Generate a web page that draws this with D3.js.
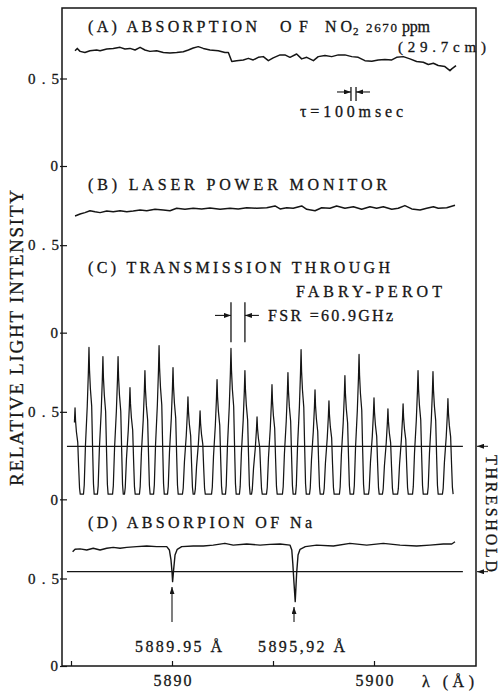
<!DOCTYPE html>
<html>
<head>
<meta charset="utf-8">
<script src="https://cdn.jsdelivr.net/npm/d3@7"></script>
<style>
  body { margin: 0; background: #fff; }
  text { font-family: "Liberation Serif", serif; fill: #151515; stroke: #151515; stroke-width: 0.3; }
</style>
</head>
<body>
<div id="wrapper"></div>
<script>
// (A) absorption of NO2 : [wavelength Å, relative intensity]
const absorptionNO2 = [
  [5885.20,0.659],[5885.31,0.672],[5885.45,0.655],[5885.69,0.649],[5885.94,0.659],[5886.27,0.663],
  [5886.44,0.659],[5886.77,0.669],[5887.09,0.672],[5887.43,0.678],[5887.67,0.669],[5887.92,0.672],
  [5888.17,0.663],[5888.42,0.678],[5888.66,0.663],[5888.91,0.655],[5889.24,0.659],[5889.57,0.649],
  [5889.90,0.646],[5890.23,0.649],[5890.56,0.653],[5890.81,0.663],[5891.05,0.674],[5891.30,0.682],
  [5891.55,0.672],[5891.88,0.663],[5892.29,0.659],[5892.62,0.649],[5892.79,0.649],[5892.96,0.597],
  [5893.20,0.602],[5893.53,0.606],[5893.78,0.615],[5894.02,0.606],[5894.27,0.621],[5894.52,0.625],
  [5894.77,0.602],[5895.01,0.618],[5895.35,0.635],[5895.59,0.635],[5895.84,0.621],[5896.17,0.640],
  [5896.42,0.612],[5896.67,0.621],[5897.00,0.602],[5897.24,0.625],[5897.57,0.631],[5897.91,0.625],
  [5898.23,0.635],[5898.56,0.635],[5898.90,0.625],[5899.22,0.621],[5899.55,0.602],[5899.89,0.598],
  [5900.21,0.606],[5900.54,0.608],[5900.88,0.606],[5901.12,0.621],[5901.45,0.625],[5901.78,0.612],
  [5902.11,0.597],[5902.44,0.593],[5902.69,0.580],[5902.94,0.587],[5903.18,0.574],[5903.51,0.568],
  [5903.76,0.545],[5903.85,0.555],[5904.06,0.574]
];

// (B) laser power monitor
const laserPower = [
  [5885.20,0.667],[5885.45,0.678],[5885.69,0.686],[5885.94,0.697],[5886.19,0.691],[5886.44,0.686],
  [5886.77,0.695],[5887.09,0.691],[5887.43,0.697],[5887.76,0.691],[5888.08,0.695],[5888.42,0.701],
  [5888.75,0.697],[5889.16,0.705],[5889.57,0.701],[5889.90,0.697],[5890.23,0.711],[5890.64,0.705],
  [5891.05,0.711],[5891.47,0.707],[5891.88,0.713],[5892.38,0.705],[5892.87,0.711],[5893.28,0.707],
  [5893.70,0.714],[5894.19,0.711],[5894.69,0.714],[5895.10,0.724],[5895.35,0.707],[5895.68,0.714],
  [5896.00,0.711],[5896.42,0.724],[5896.67,0.705],[5897.08,0.697],[5897.41,0.714],[5897.82,0.711],
  [5898.15,0.724],[5898.56,0.711],[5898.98,0.720],[5899.39,0.705],[5899.80,0.720],[5900.13,0.711],
  [5900.46,0.720],[5900.88,0.705],[5901.20,0.711],[5901.53,0.726],[5901.87,0.707],[5902.28,0.701],
  [5902.61,0.711],[5902.94,0.720],[5903.18,0.711],[5903.60,0.714],[5904.01,0.728]
];

// (C) Fabry-Perot transmission peaks
const fpPeakWavelength = [
  5885.20,5885.89,5886.58,5887.33,5887.92,5888.66,5889.36,5890.05,5890.79,5891.39,
  5892.23,5892.92,5893.61,5894.21,5894.95,5895.74,5896.39,5897.08,5897.77,5898.56,
  5899.26,5900.00,5900.69,5901.44,5902.18,5902.92,5903.66
];
const fpPeakHeight = [
  0.523,0.868,0.816,0.816,0.638,0.736,0.879,0.753,0.586,0.506,
  0.684,0.862,0.736,0.471,0.655,0.724,0.856,0.626,0.563,0.707,
  0.828,0.580,0.517,0.546,0.736,0.730,0.575
];
const fpValley = 0.03;
// shape of one transmission fringe: [offset Å, fraction of peak height]
const fpProfile = [
  [-0.272,0],[-0.235,0.06],[-0.175,0.33],[-0.085,0.6],[-0.030,0.83],[0,1],
  [0.025,0.85],[0.069,0.72],[0.134,0.6],[0.178,0.32],[0.222,0.07],[0.257,0]
];

// (D) absorption of Na
const sodium = [
  [5885.08,0.653],[5885.20,0.667],[5885.45,0.669],[5885.78,0.663],[5886.10,0.673],[5886.44,0.663],
  [5886.77,0.673],[5887.09,0.678],[5887.43,0.673],[5887.76,0.678],[5888.25,0.682],[5888.75,0.686],
  [5889.24,0.682],[5889.74,0.682],[5889.87,0.663],[5889.95,0.606],[5890.00,0.539],[5890.03,0.482],
  [5890.08,0.549],[5890.15,0.634],[5890.26,0.667],[5890.48,0.682],[5891.05,0.686],[5891.55,0.686],
  [5892.04,0.691],[5892.62,0.701],[5893.03,0.691],[5893.70,0.697],[5894.36,0.691],[5894.85,0.695],
  [5895.35,0.697],[5895.84,0.691],[5895.93,0.663],[5895.98,0.587],[5896.04,0.473],[5896.10,0.368],
  [5896.17,0.530],[5896.24,0.634],[5896.34,0.667],[5896.60,0.682],[5897.16,0.691],[5897.99,0.686],
  [5898.81,0.701],[5899.64,0.691],[5900.46,0.701],[5901.29,0.691],[5902.11,0.686],[5902.77,0.691],
  [5903.43,0.697],[5903.85,0.697],[5904.01,0.710]
];
const naLines = [5890.00, 5896.04];
const naLineLabels = ["5889.95 Å", "5895,92 Å"];

const thresholdC = 0.303;
const thresholdD = 0.539;
const thresholdSpan = [5884.80, 5904.40];

const tauMarks = [5898.86, 5899.11];

const xTickValues = [5885, 5890, 5895, 5900];
const xTickLabels = ["", "5890", "", "5900"];
const yTickValues = [0, 0.5];
const yTickLabels = ["0", "0.5"];

const dims = {
  width: 502, height: 693,
  left: 62, right: 476, top: 8, bottom: 666,
  firstZero: 166, unit: 175
};
const panelStep = (dims.bottom - dims.firstZero) / 3;
const ink = "#151515";
const serif = "Liberation Serif";

const svg = d3.select("#wrapper").append("svg")
  .attr("width", dims.width).attr("height", dims.height);

const defs = svg.append("defs");
defs.append("marker").attr("id", "head")
  .attr("markerUnits", "userSpaceOnUse")
  .attr("markerWidth", 7).attr("markerHeight", 5)
  .attr("refX", 7).attr("refY", 2.5).attr("orient", "auto")
  .append("path").attr("d", "M0,0L7,2.5L0,5Z").attr("fill", ink);

const x = d3.scaleLinear().domain([5885, 5900]).range([71, 374]);
const y = [0, 1, 2, 3].map(i => {
  const zero = dims.firstZero + i * panelStep;
  return d3.scaleLinear().domain([0, 1]).range([zero, zero - dims.unit]);
});

// frame
svg.append("rect")
  .attr("x", dims.left).attr("y", dims.top)
  .attr("width", dims.right - dims.left).attr("height", dims.bottom - dims.top)
  .attr("fill", "none").attr("stroke", ink).attr("stroke-width", 1.5);

// y axes, one per panel
y.forEach(sc => {
  const g = svg.append("g")
    .attr("transform", `translate(${dims.left},0)`)
    .call(d3.axisLeft(sc).tickValues(yTickValues)
      .tickFormat((d, i) => yTickLabels[i]).tickSizeInner(-5).tickSizeOuter(0).tickPadding(4));
  g.select(".domain").remove();
  g.selectAll(".tick line").attr("x1", -2).attr("stroke", ink).attr("stroke-width", 1.2);
  g.selectAll(".tick text").attr("font-family", serif).attr("font-size", 15)
    .attr("fill", ink)
    .each(function(d) {
      if (d === 0.5) d3.select(this).attr("text-anchor", "start").attr("x", -34)
        .attr("textLength", 31).attr("lengthAdjust", "spacing");
    });
});

// x axis
const xg = svg.append("g")
  .attr("transform", `translate(0,${dims.bottom})`)
  .call(d3.axisBottom(x).tickValues(xTickValues)
    .tickFormat((d, i) => xTickLabels[i]).tickSizeInner(-5).tickSizeOuter(0).tickPadding(9));
xg.select(".domain").remove();
xg.selectAll(".tick line").attr("stroke", ink).attr("stroke-width", 1.2);
xg.selectAll(".tick text").attr("font-family", serif).attr("font-size", 16)
  .attr("fill", ink).attr("textLength", 38).attr("lengthAdjust", "spacing");

// traces
function trace(data, sc, w) {
  svg.append("path")
    .attr("d", d3.line().x(d => x(d[0])).y(d => sc(d[1]))(data))
    .attr("fill", "none").attr("stroke", ink).attr("stroke-width", w)
    .attr("stroke-linejoin", "round");
}
trace(absorptionNO2, y[0], 1.5);
trace(laserPower, y[1], 1.5);

const fpTrace = [];
fpPeakWavelength.forEach((lam, i) => {
  const h = fpPeakHeight[i];
  fpProfile.forEach(([dl, f]) => {
    if (i === 0 && dl < -0.03) return;
    fpTrace.push([lam + dl, fpValley + f * (h - fpValley)]);
  });
});
trace(fpTrace, y[2], 1.25);
trace(sodium, y[3], 1.4);

// thresholds
[[thresholdC, y[2]], [thresholdD, y[3]]].forEach(([t, sc]) => {
  svg.append("line")
    .attr("x1", x(thresholdSpan[0])).attr("x2", x(thresholdSpan[1]))
    .attr("y1", sc(t)).attr("y2", sc(t))
    .attr("stroke", ink).attr("stroke-width", 1.3);
  svg.append("line")
    .attr("x1", dims.right + 12).attr("x2", dims.right + 1)
    .attr("y1", sc(t)).attr("y2", sc(t))
    .attr("stroke", ink).attr("stroke-width", 1).attr("marker-end", "url(#head)");
});

function arrow(x1, y1, x2, y2) {
  svg.append("line").attr("x1", x1).attr("y1", y1).attr("x2", x2).attr("y2", y2)
    .attr("stroke", ink).attr("stroke-width", 1.1).attr("marker-end", "url(#head)");
}
function vline(xx, y1, y2) {
  svg.append("line").attr("x1", xx).attr("x2", xx).attr("y1", y1).attr("y2", y2)
    .attr("stroke", ink).attr("stroke-width", 1.3);
}

// tau marker
tauMarks.forEach(l => vline(x(l), y[0](0.451), y[0](0.371)));
arrow(x(tauMarks[0]) - 14, y[0](0.423), x(tauMarks[0]), y[0](0.423));
arrow(x(tauMarks[1]) + 14, y[0](0.423), x(tauMarks[1]), y[0](0.423));

// FSR marker between two neighbouring fringes
const fsr = [fpPeakWavelength[11], fpPeakWavelength[12]];
fsr.forEach(l => vline(x(l), y[2](1.126), y[2](0.897)));
arrow(x(fsr[0]) - 16, y[2](1.051), x(fsr[0]), y[2](1.051));
arrow(x(fsr[1]) + 14, y[2](1.051), x(fsr[1]), y[2](1.051));

// Na line arrows
arrow(x(naLines[0]), y[3](0.251), x(naLines[0]), y[3](0.451));
arrow(x(naLines[1]), y[3](0.251), x(naLines[1]), y[3](0.337));

// labels
function label(xx, yy, str, w, size) {
  const t = svg.append("text").attr("x", xx).attr("y", yy)
    .attr("font-size", size).text(str);
  if (w) t.attr("textLength", w).attr("lengthAdjust", "spacing");
  return t;
}
label(88, 32, "(A) ABSORPTION", 169, 16);
label(280, 32, "OF", 28, 16);
label(325, 32, "NO", 27, 16);
label(353, 35, "2", null, 11);
label(366, 32, "2670", 31, 13);
label(402, 32, "ppm", 28, 16);
label(398, 52, "(29.7cm)", 88, 15);
label(300, 117, "τ=100msec", 103, 16);
label(88, 190, "(B) LASER POWER MONITOR", 299, 16);
label(88, 273, "(C) TRANSMISSION THROUGH", 302, 16);
label(296, 297, "FABRY-PEROT", 146, 16);
label(268, 321, "FSR =60.9GHz", 125, 16);
label(88, 528, "(D) ABSORPION OF Na", 224, 16);
label(135, 652, naLineLabels[0], 87, 16);
label(258, 652, naLineLabels[1], 87, 16);
label(422, 687, "λ (Å)", 52, 16);

label(0, 0, "THRESHOLD", 117, 16).attr("transform", "translate(486,455) rotate(90)");
label(0, 0, "RELATIVE LIGHT INTENSITY", 296, 19).attr("transform", "translate(23,486) rotate(-90)");
</script>
</body>
</html>
